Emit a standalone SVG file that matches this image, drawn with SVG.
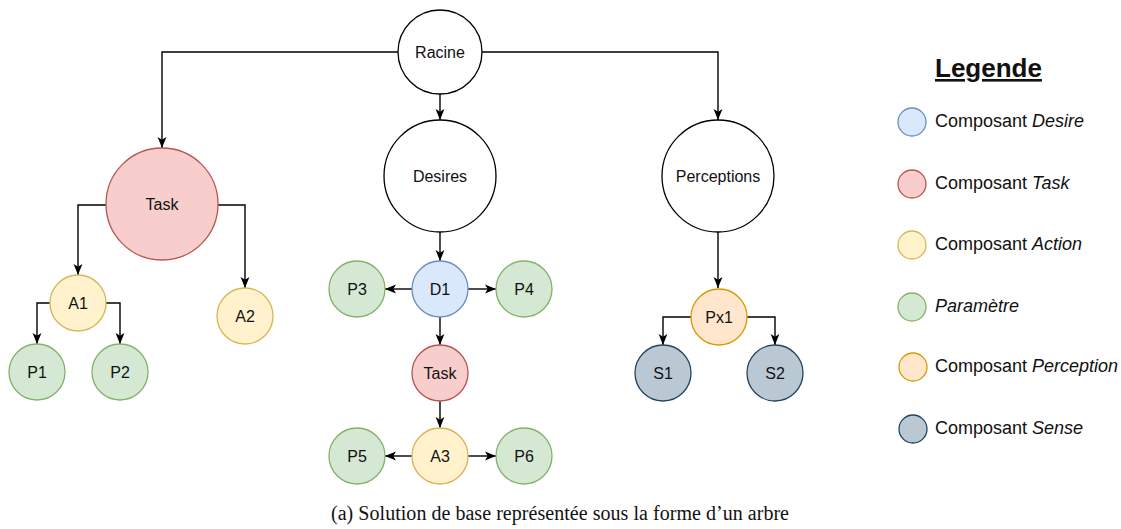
<svg xmlns="http://www.w3.org/2000/svg" width="1121" height="529" viewBox="0 0 1121 529">
  <style>
    .n { stroke-width: 1.3; }
    .plain { fill: #ffffff; stroke: #000000; }
    .desire { fill: #dae8fc; stroke: #6c8ebf; }
    .task { fill: #f8cecc; stroke: #b85450; }
    .action { fill: #fff2cc; stroke: #d6b656; }
    .param { fill: #d5e8d4; stroke: #82b366; }
    .percep { fill: #ffe6cc; stroke: #d79b00; }
    .sense { fill: #bac8d3; stroke: #23445d; }
    .lbl { font-family: "Liberation Sans", Arial, sans-serif; font-size: 16px; fill: #111111; text-anchor: middle; }
    .leg { font-family: "Liberation Sans", Arial, sans-serif; font-size: 18px; fill: #111111; }
    .edge { fill: none; stroke: #000000; stroke-width: 1.4; marker-end: url(#arrow); }
  </style>
  <defs>
    <marker id="arrow" viewBox="0 0 10 10" refX="10" refY="5" markerWidth="11" markerHeight="11" markerUnits="userSpaceOnUse" orient="auto">
      <path d="M0,1 L10,5 L0,9 L2.5,5 z" fill="#000000"/>
    </marker>
  </defs>
  <rect width="1121" height="529" fill="#ffffff"/>

  <!-- connectors -->
  <g id="connectors">
    <path class="edge" d="M398,52 H162 V148"/>
    <path class="edge" d="M440,94 V120"/>
    <path class="edge" d="M482,52 H718 V120"/>
    <path class="edge" d="M106,205 H78 V275"/>
    <path class="edge" d="M218,205 H245 V288"/>
    <path class="edge" d="M50,303 H37 V344"/>
    <path class="edge" d="M106,303 H120 V344"/>
    <path class="edge" d="M440,232 V261"/>
    <path class="edge" d="M412,289 H385"/>
    <path class="edge" d="M468,289 H496"/>
    <path class="edge" d="M440,317 V345"/>
    <path class="edge" d="M440,401 V428"/>
    <path class="edge" d="M412,456 H385"/>
    <path class="edge" d="M468,456 H496"/>
    <path class="edge" d="M718,232 V288"/>
    <path class="edge" d="M691,317 H663 V345"/>
    <path class="edge" d="M747,317 H775 V345"/>
  </g>

  <!-- tree nodes -->
  <g id="racine"><circle class="n plain" cx="440" cy="52" r="42"/><text class="lbl" x="440" y="57.5">Racine</text></g>
  <g id="desires"><circle class="n plain" cx="440" cy="176" r="56"/><text class="lbl" x="440" y="181.5">Desires</text></g>
  <g id="perceptions"><circle class="n plain" cx="718" cy="176" r="56"/><text class="lbl" x="718" y="181.5">Perceptions</text></g>
  <g id="task-main"><circle class="n task" cx="162" cy="204" r="56"/><text class="lbl" x="162" y="209.5">Task</text></g>
  <g id="a1"><circle class="n action" cx="78" cy="303" r="28"/><text class="lbl" x="78" y="308.5">A1</text></g>
  <g id="a2"><circle class="n action" cx="245" cy="316" r="28"/><text class="lbl" x="245" y="321.5">A2</text></g>
  <g id="p1"><circle class="n param" cx="37" cy="372" r="28"/><text class="lbl" x="37" y="377.5">P1</text></g>
  <g id="p2"><circle class="n param" cx="120" cy="372" r="28"/><text class="lbl" x="120" y="377.5">P2</text></g>
  <g id="d1"><circle class="n desire" cx="440" cy="289" r="28"/><text class="lbl" x="440" y="294.5">D1</text></g>
  <g id="p3"><circle class="n param" cx="357" cy="289" r="28"/><text class="lbl" x="357" y="294.5">P3</text></g>
  <g id="p4"><circle class="n param" cx="524" cy="289" r="28"/><text class="lbl" x="524" y="294.5">P4</text></g>
  <g id="task-d1"><circle class="n task" cx="440" cy="373" r="28"/><text class="lbl" x="440" y="378.5">Task</text></g>
  <g id="a3"><circle class="n action" cx="440" cy="456" r="28"/><text class="lbl" x="440" y="461.5">A3</text></g>
  <g id="p5"><circle class="n param" cx="357" cy="456" r="28"/><text class="lbl" x="357" y="461.5">P5</text></g>
  <g id="p6"><circle class="n param" cx="524" cy="456" r="28"/><text class="lbl" x="524" y="461.5">P6</text></g>
  <g id="px1"><circle class="n percep" cx="719" cy="317" r="28"/><text class="lbl" x="719" y="322.5">Px1</text></g>
  <g id="s1"><circle class="n sense" cx="663" cy="373" r="28"/><text class="lbl" x="663" y="378.5">S1</text></g>
  <g id="s2"><circle class="n sense" cx="775" cy="373" r="28"/><text class="lbl" x="775" y="378.5">S2</text></g>

  <!-- legend -->
  <g id="legend">
    <text x="935" y="77" font-family="Liberation Sans, Arial, sans-serif" font-size="26" font-weight="bold" fill="#111111" text-decoration="underline">Legende</text>
    <g id="leg-desire"><circle class="n desire" cx="912" cy="122" r="14"/><text class="leg" x="935" y="127">Composant <tspan font-style="italic">Desire</tspan></text></g>
    <g id="leg-task"><circle class="n task" cx="912" cy="184" r="14"/><text class="leg" x="935" y="189">Composant <tspan font-style="italic">Task</tspan></text></g>
    <g id="leg-action"><circle class="n action" cx="912" cy="245" r="14"/><text class="leg" x="935" y="250">Composant <tspan font-style="italic">Action</tspan></text></g>
    <g id="leg-param"><circle class="n param" cx="912" cy="307" r="14"/><text class="leg" x="935" y="312" font-style="italic">Paramètre</text></g>
    <g id="leg-percep"><circle class="n percep" cx="913" cy="367" r="14"/><text class="leg" x="935" y="372">Composant <tspan font-style="italic">Perception</tspan></text></g>
    <g id="leg-sense"><circle class="n sense" cx="913" cy="429" r="14"/><text class="leg" x="935" y="434">Composant <tspan font-style="italic">Sense</tspan></text></g>
  </g>

  <!-- caption -->
  <text x="331" y="520" font-family="Liberation Serif, 'Times New Roman', serif" font-size="20" fill="#111111" textLength="458" lengthAdjust="spacing">(a) Solution de base représentée sous la forme d’un arbre</text>
</svg>
